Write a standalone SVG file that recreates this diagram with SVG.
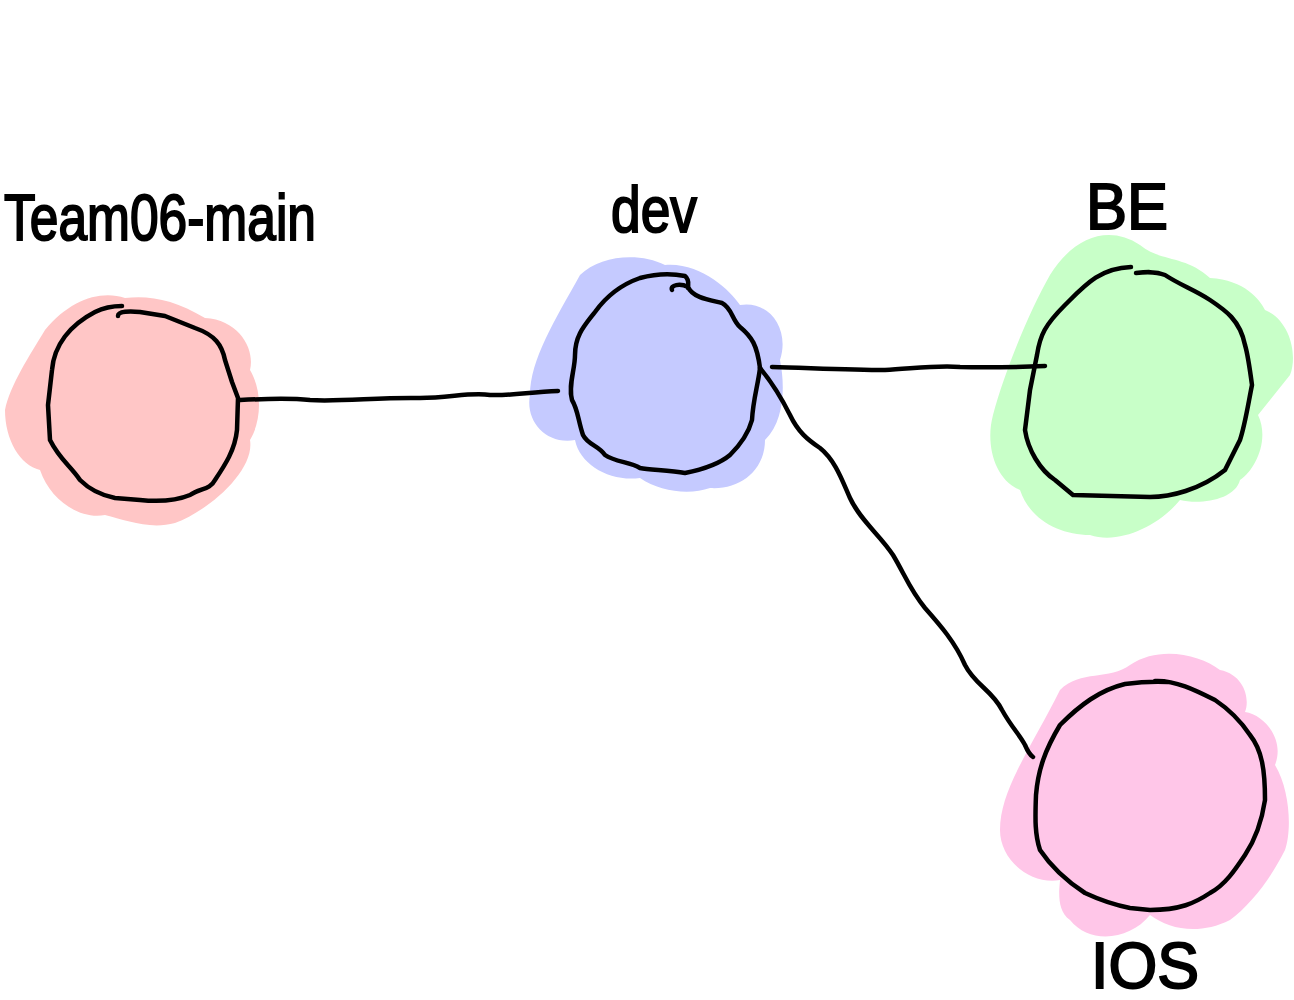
<svg xmlns="http://www.w3.org/2000/svg" width="1294" height="1000" viewBox="0 0 1294 1000">
<style>
.lbl{font-family:"Liberation Sans","DejaVu Sans",sans-serif;font-size:64px;fill:#000;stroke:#000;stroke-width:2;}
.ring{fill:none;stroke:#000;stroke-width:4.5;stroke-linecap:round;stroke-linejoin:round;}
.conn{fill:none;stroke:#000;stroke-width:4.5;stroke-linecap:round;stroke-linejoin:round;}
</style>
<rect width="1294" height="1000" fill="#fff"/>
<g id="node-team06-main">
<path fill="#ffc6c6" d="M 45 330 C 70 300, 100 290, 125 298 C 150 295, 175 300, 205 318 C 240 320, 255 350, 250 370 C 262 390, 262 420, 250 440 C 255 470, 210 510, 175 523 C 150 530, 125 520, 105 515 C 80 520, 50 500, 40 470 C 20 465, 5 440, 5 410 C 10 385, 30 355, 45 330 Z"/>
<path class="ring" d="M 118 316 C 118 311, 130 311, 140 312 L 165 316 L 195 328 C 215 335, 222 345, 225 360 L 232 382 L 238 398 L 237 430 C 235 450, 225 465, 215 480 C 210 490, 200 488, 190 495 C 178 500, 160 502, 140 500 L 115 498 C 100 495, 90 490, 80 480 C 70 465, 60 460, 50 440 L 48 405 L 52 370 C 54 345, 70 325, 95 312 C 105 307, 115 306, 122 306"/>
<text class="lbl" x="4" y="240" textLength="312" lengthAdjust="spacingAndGlyphs">Team06-main</text>
</g>
<g id="node-dev">
<path fill="#c5caff" d="M 580 275 C 600 255, 640 252, 665 265 C 700 262, 730 290, 740 305 C 770 300, 790 330, 780 360 C 785 385, 785 420, 765 440 C 765 470, 740 490, 710 488 C 690 495, 660 492, 640 478 C 610 482, 580 465, 575 440 C 545 445, 525 420, 530 395 C 530 360, 555 320, 580 275 Z"/>
<path class="ring" d="M 672 290 C 670 285, 680 283, 688 287 C 693 298, 710 300, 722 303 C 732 308, 732 320, 740 327 C 752 337, 757 345, 760 368 C 758 385, 753 400, 752 420 C 748 435, 740 445, 730 455 C 718 465, 700 470, 685 473 C 670 470, 650 470, 640 468 C 630 462, 615 462, 605 455 C 598 445, 588 445, 583 435 C 578 420, 578 410, 572 400 C 568 385, 575 370, 575 355 C 575 335, 585 325, 595 312 C 605 298, 620 285, 640 278 C 655 274, 670 273, 685 276 C 690 280, 688 285, 688 288"/>
<text class="lbl" x="611" y="232" textLength="86" lengthAdjust="spacingAndGlyphs">dev</text>
</g>
<g id="node-be">
<path fill="#c8ffc8" d="M 1050 275 C 1075 235, 1110 225, 1140 245 C 1160 262, 1185 255, 1210 278 C 1245 280, 1260 300, 1265 310 C 1290 320, 1298 355, 1290 375 L 1258 415 C 1270 440, 1255 470, 1240 480 C 1235 500, 1200 505, 1180 500 C 1160 525, 1120 545, 1090 535 C 1060 535, 1030 520, 1020 490 C 995 480, 985 445, 993 415 C 1005 370, 1030 310, 1050 275 Z"/>
<path class="ring" d="M 1131 267 C 1100 268, 1085 285, 1065 305 C 1045 325, 1040 335, 1037 355 L 1030 390 L 1025 430 C 1028 450, 1040 470, 1055 480 L 1073 495 L 1150 497 C 1170 497, 1200 490, 1225 470 L 1240 440 C 1245 425, 1248 405, 1252 385 C 1250 370, 1248 355, 1245 345 C 1240 320, 1225 310, 1210 300 C 1195 290, 1180 285, 1165 275 C 1155 271, 1145 272, 1136 273"/>
<text class="lbl" x="1086" y="229" textLength="82" lengthAdjust="spacingAndGlyphs">BE</text>
</g>
<g id="node-ios">
<path fill="#ffc6e8" d="M 1060 690 C 1080 670, 1110 680, 1130 665 C 1160 645, 1200 655, 1220 670 C 1245 675, 1250 700, 1245 712 C 1265 715, 1285 740, 1275 765 C 1290 790, 1292 830, 1285 850 C 1270 880, 1250 905, 1230 920 C 1200 935, 1170 930, 1150 915 C 1130 940, 1090 945, 1070 920 C 1055 910, 1060 885, 1060 880 C 1030 885, 1000 860, 1000 830 C 1000 790, 1030 750, 1060 690 Z"/>
<path class="ring" d="M 1155 681 C 1175 680, 1195 690, 1215 700 C 1230 710, 1240 720, 1250 735 C 1262 750, 1265 770, 1265 800 C 1262 820, 1255 840, 1245 855 C 1235 870, 1225 885, 1210 893 C 1195 903, 1180 910, 1150 910 L 1130 908 C 1115 905, 1100 900, 1085 893 C 1065 880, 1050 865, 1040 850 C 1035 835, 1035 820, 1036 795 C 1038 770, 1045 750, 1060 725 C 1080 705, 1100 690, 1125 684 C 1140 682, 1150 681, 1168 682"/>
<text class="lbl" x="1091" y="988" font-size="58" textLength="108" lengthAdjust="spacingAndGlyphs">IOS</text>
</g>
<g id="connectors">
<path class="conn" d="M 240 400 C 260 399, 290 398, 310 400 C 340 402, 380 397, 420 398 C 450 398, 470 392, 490 395 C 510 396, 530 392, 558 391"/>
<path class="conn" d="M 772 367 C 810 368, 850 370, 885 370 C 910 369, 935 365, 960 367 C 990 368, 1020 367, 1045 366"/>
<path class="conn" d="M 760 368 C 770 380, 780 395, 790 415 C 798 432, 808 440, 820 448 C 835 460, 842 480, 850 498 C 860 520, 880 535, 893 555 C 905 575, 910 590, 925 608 C 940 625, 955 642, 965 665 C 975 685, 992 690, 1002 710 C 1012 728, 1020 735, 1025 745 C 1028 752, 1030 755, 1033 757"/>
</g>
</svg>
